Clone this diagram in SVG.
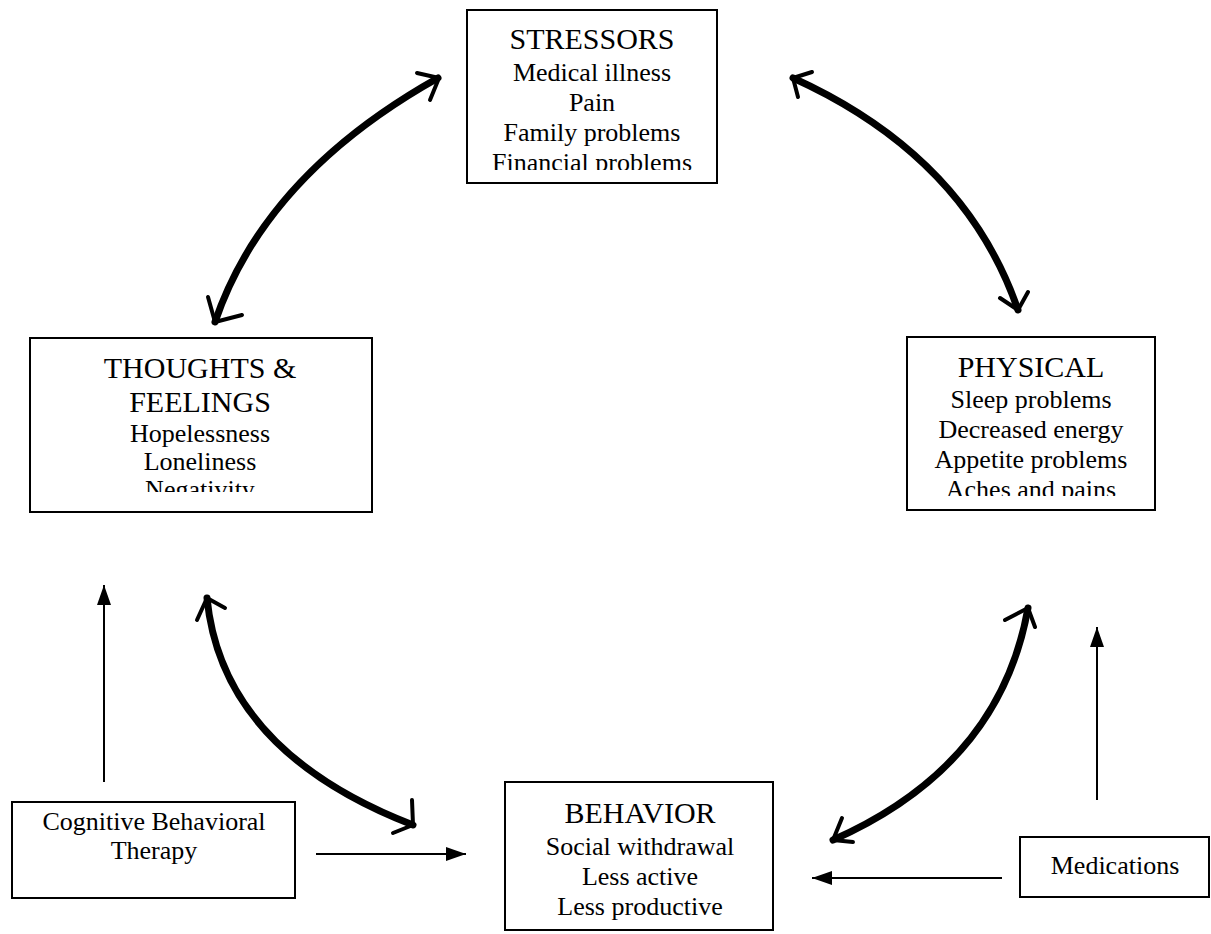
<svg xmlns="http://www.w3.org/2000/svg" width="1211" height="934" viewBox="0 0 1211 934">
<style>
.box{fill:#fff;stroke:#000;stroke-width:2}
.t{font-family:"Liberation Serif","Times New Roman",serif;fill:#000;text-anchor:middle}
.h{font-size:30px}
.s{font-size:26px}
.thick{fill:none;stroke:#000;stroke-width:7;stroke-linecap:round}
.barb{fill:none;stroke:#000;stroke-width:4;stroke-linecap:round;stroke-linejoin:round}
.thin{fill:none;stroke:#000;stroke-width:2}
</style>
<defs>
<marker id="tri" viewBox="0 0 20 14" refX="20" refY="7" markerWidth="20" markerHeight="14" markerUnits="userSpaceOnUse" orient="auto">
<path d="M0,0 L20,7 L0,14 Z" fill="#000"/>
</marker>
<clipPath id="cS"><rect x="467" y="10" width="250" height="160"/></clipPath>
<clipPath id="cT"><rect x="30" y="338" width="342" height="154"/></clipPath>
<clipPath id="cP"><rect x="907" y="337" width="248" height="159"/></clipPath>
</defs>
<g id="connectors">
<path class="thick" d="M438,78 Q265,175 215,322"/>
<path class="barb" d="M417,73 L439,78 L430,100"/>
<path class="barb" d="M208,297 L215,322 L242,315"/>
<path class="thick" d="M793,78 Q965,156 1018,310"/>
<path class="barb" d="M812,72 L793,78 L798,97"/>
<path class="barb" d="M1000,298 L1018,310 L1028,292"/>
<path class="thick" d="M207,598 Q222,751 413,825"/>
<path class="barb" d="M197,620 L207,598 L225,608"/>
<path class="barb" d="M412,800 L413,825 L393,833"/>
<path class="thick" d="M1028,608 Q1000,766 833,840"/>
<path class="barb" d="M1005,620 L1028,608 L1035,627"/>
<path class="barb" d="M842,818 L833,840 L853,842"/>
<line class="thin" x1="104" y1="782" x2="104" y2="585" marker-end="url(#tri)"/>
<line class="thin" x1="316" y1="854" x2="466" y2="854" marker-end="url(#tri)"/>
<line class="thin" x1="1097" y1="800" x2="1097" y2="627" marker-end="url(#tri)"/>
<line class="thin" x1="1002" y1="878" x2="812" y2="878" marker-end="url(#tri)"/>
</g>
<g id="stressors">
<rect class="box" x="467" y="10" width="250" height="173"/>
<g clip-path="url(#cS)">
<text class="t h" x="592" y="49">STRESSORS</text>
<text class="t s" x="592" y="81">Medical illness</text>
<text class="t s" x="592" y="111">Pain</text>
<text class="t s" x="592" y="141">Family problems</text>
<text class="t s" x="592" y="171">Financial problems</text>
</g>
</g>
<g id="thoughts">
<rect class="box" x="30" y="338" width="342" height="174"/>
<g clip-path="url(#cT)">
<text class="t h" x="200" y="378">THOUGHTS &amp;</text>
<text class="t h" x="200" y="412">FEELINGS</text>
<text class="t s" x="200" y="442">Hopelessness</text>
<text class="t s" x="200" y="470">Loneliness</text>
<text class="t s" x="200" y="498">Negativity</text>
</g>
</g>
<g id="physical">
<rect class="box" x="907" y="337" width="248" height="173"/>
<g clip-path="url(#cP)">
<text class="t h" x="1031" y="377">PHYSICAL</text>
<text class="t s" x="1031" y="408">Sleep problems</text>
<text class="t s" x="1031" y="438">Decreased energy</text>
<text class="t s" x="1031" y="468">Appetite problems</text>
<text class="t s" x="1031" y="498">Aches and pains</text>
</g>
</g>
<g id="behavior">
<rect class="box" x="505" y="782" width="268" height="148"/>
<text class="t h" x="640" y="823">BEHAVIOR</text>
<text class="t s" x="640" y="855">Social withdrawal</text>
<text class="t s" x="640" y="885">Less active</text>
<text class="t s" x="640" y="915">Less productive</text>
</g>
<g id="cbt">
<rect class="box" x="12" y="802" width="283" height="96"/>
<text class="t s" x="154" y="830">Cognitive Behavioral</text>
<text class="t s" x="154" y="859">Therapy</text>
</g>
<g id="medications">
<rect class="box" x="1020" y="837" width="189" height="60"/>
<text class="t s" x="1115" y="874">Medications</text>
</g>
</svg>
